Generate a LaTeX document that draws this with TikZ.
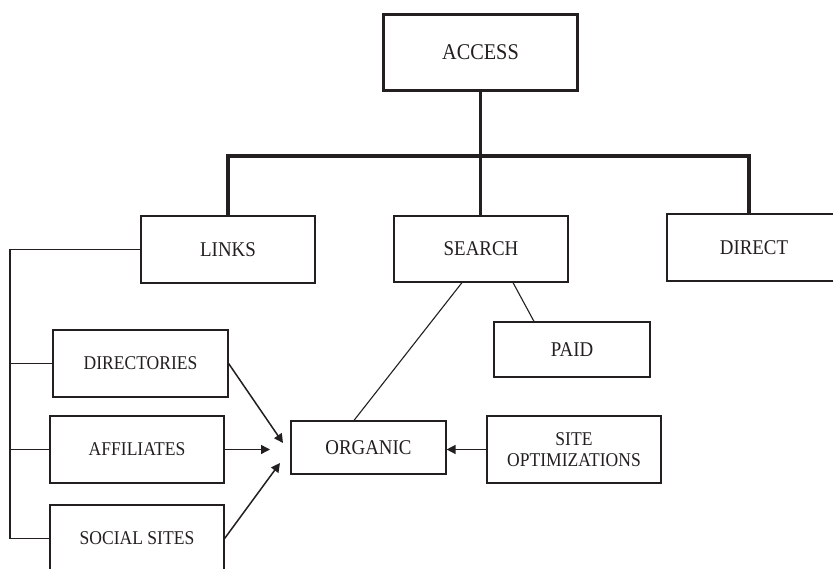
\documentclass[tikz,border=0pt]{standalone}
\usepackage{fontspec}
\setmainfont[FakeStretch=0.9]{Liberation Serif}
\usetikzlibrary{arrows.meta}
\definecolor{ink}{HTML}{231F20}
\tikzset{
  box/.style={draw=ink, line width=1.2pt, fill=white, inner sep=0pt,
    minimum width=174pt, minimum height=67pt, text=ink, align=center,
    font=\fontsize{21}{21}\selectfont},
  smallbox/.style={box, font=\fontsize{19.5}{21}\selectfont},
  rootbox/.style={box, line width=3.2pt, minimum width=194pt, minimum height=76pt,
    font=\fontsize{22.5}{22.5}\selectfont},
  bus/.style={draw=ink, line width=3.2pt},
  wire/.style={draw=ink, line width=1.1pt},
  feed/.style={draw=ink, line width=1.5pt, -{Triangle[length=9pt,width=9pt]}},
}
\begin{document}
\begin{tikzpicture}[x=1pt, y=-1pt]
  \useasboundingbox (0,0) rectangle (833,569);
  \clip (0,0) rectangle (833,569);
  \fill[white] (0,0) rectangle (833,569);

  % top level
  \node[rootbox] (access) at (480.5,52.5) {ACCESS};
  \node[box] (links)  at (228,249.5) {LINKS};
  \node[box, minimum height=66pt] (search) at (481,249) {SEARCH};
  \node[box] (direct) at (754,247.5) {DIRECT};

  % second level
  \node[box, minimum width=156pt, minimum height=55pt] (paid) at (572,349.5) {PAID};
  \node[box, minimum width=155pt, minimum height=53pt] (organic) at (368.5,447.5) {ORGANIC};
  \node[smallbox] (siteopt) at (574,449.5) {SITE\\OPTIMIZATIONS};
  \node[smallbox, minimum width=175pt] (dirs) at (140.5,363.5) {DIRECTORIES};
  \node[smallbox] (affil) at (137,449.5) {AFFILIATES};
  \node[smallbox] (social) at (137,538.5) {SOCIAL SITES};

  % tree bus under ACCESS
  \coordinate (busR) at (749,156);
  \draw[bus] (access.south) -- (access.south |- search.north);
  \draw[bus] (links.north) |- (busR) -- (busR |- direct.north);

  % branch from LINKS down the left side
  \coordinate (trunk) at (10,538.5);
  \draw[wire] (links.west) -| (trunk) -- (social.west);
  \draw[wire] (dirs.west) -- (dirs.west -| trunk);
  \draw[wire] (affil.west) -- (affil.west -| trunk);

  % SEARCH splits into ORGANIC and PAID
  \draw[wire] ([xshift=-19pt]search.south) -- ([xshift=-14.5pt]organic.north);
  \draw[wire] ([xshift=32pt]search.south) -- ([xshift=-38pt]paid.north);

  % feeds into ORGANIC
  \coordinate (tipD) at (283,443);
  \coordinate (tipA) at (270,450);
  \coordinate (tipS) at (280,463);
  \draw[feed] (dirs.east) -- (tipD);
  \draw[feed] (affil.east) -- (affil.east -| tipA);
  \draw[feed] (social.east) -- (tipS);
  \draw[feed] (siteopt.west) -- (siteopt.west -| organic.east);
\end{tikzpicture}
\end{document}
